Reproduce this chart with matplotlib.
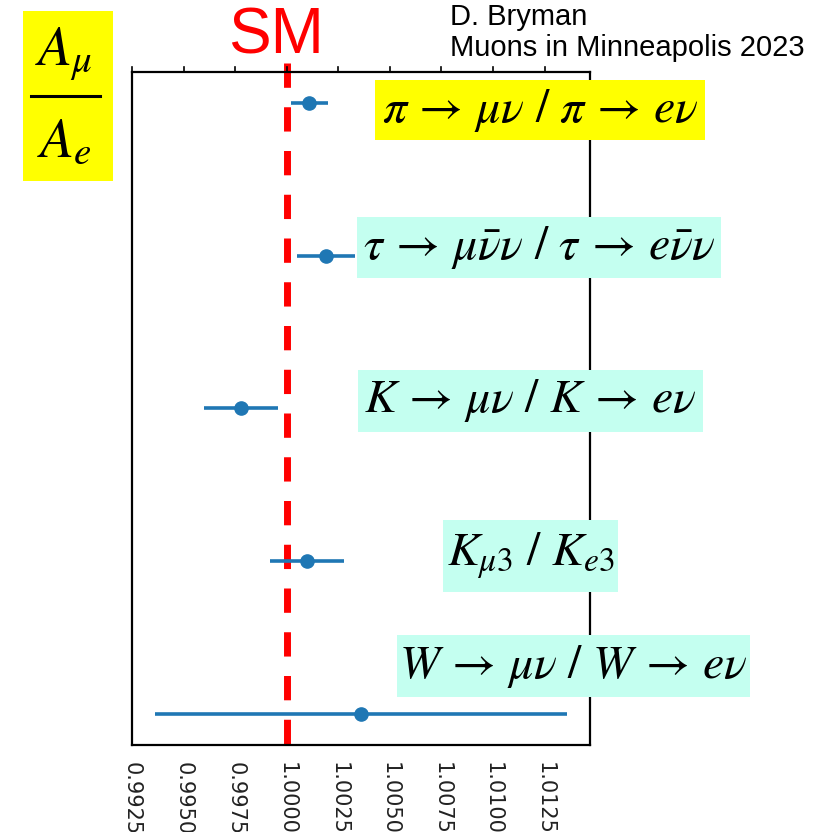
import numpy as np
import matplotlib
matplotlib.use('Agg')
import matplotlib.pyplot as plt
from matplotlib.patches import Rectangle

plt.rcParams['mathtext.fontset'] = 'stix'

# lepton universality ratios A_mu / A_e, top to bottom
channels = [r'$\pi \,\rightarrow\, \mu\nu\ /\ \pi \,\rightarrow\, e\nu$',
            r'$\tau \,\rightarrow\, \mu\bar{\nu}\nu\ /\ \tau \,\rightarrow\, e\bar{\nu}\nu$',
            r'$K \,\rightarrow\, \mu\nu\ /\ K \,\rightarrow\, e\nu$',
            r'$K_{\mu 3}\ /\ K_{e3}$',
            r'$W \,\rightarrow\, \mu\nu\ /\ W \,\rightarrow\, e\nu$']
ratio = [1.0011, 1.0019, 0.9978, 1.0010, 1.0036]
ratio_err = [0.0009, 0.0014, 0.0018, 0.0018, 0.0100]
xticks = [0.9925, 0.9950, 0.9975, 1.0000, 1.0025, 1.0050, 1.0075, 1.0100, 1.0125]

# label boxes in pixels: (x0, y0_top, x1, y1_bottom), colour
box_px = [(375, 80, 705, 140), (357, 217, 721, 278), (358, 370, 703, 432),
          (443, 520, 618, 592), (397, 635, 750, 697)]
box_col = ['#ffff00', '#c4fff0', '#c4fff0', '#c4fff0', '#c4fff0']

W, H = 831, 832
fig = plt.figure(figsize=(W / 100, H / 100), dpi=100)
ax = fig.add_axes([132 / W, 1 - 745 / H, (590 - 132) / W, (745 - 72) / H])

ypos = np.arange(len(ratio))
ax.errorbar(ratio, ypos, xerr=ratio_err, fmt='o', color='#1f77b4',
            ms=9.5, elinewidth=2.6, capsize=0, zorder=3)

# Standard Model expectation
ax.plot([1.0, 1.0], [-0.26, 4.2], color='red', lw=5, dashes=(3.5, 2.8),
        clip_on=False, zorder=2)

ax.set_xlim(0.9925, 1.0147)
ax.set_ylim(4.2, -0.2)
ax.set_yticks([])
ax.set_xticks(xticks)
ax.set_xticklabels(['%.4f' % t for t in xticks], rotation=270, fontsize=15,
                   color='#222222')
ax.tick_params(axis='x', bottom=True, top=True, labelbottom=True, labeltop=False,
               direction='out', length=0, pad=12)
for t in xticks:
    ax.plot([t, t], [-0.2, -0.235], color='black', lw=1.2, clip_on=False)
for s in ax.spines.values():
    s.set_linewidth(1.6)

def fx(px):
    return px / W

def fy(py):
    return 1 - py / H

for (x0, y0, x1, y1), c, lab in zip(box_px, box_col, channels):
    fig.patches.append(Rectangle((fx(x0), fy(y1)), fx(x1 - x0), (y1 - y0) / H,
                                 transform=fig.transFigure, facecolor=c,
                                 edgecolor='none', zorder=5))
    fig.text(fx((x0 + x1) / 2), fy((y0 + y1) / 2), lab, fontsize=34.5,
             ha='center', va='center', zorder=6)

# A_mu / A_e label
fig.patches.append(Rectangle((fx(23), fy(181)), fx(90), 170 / H,
                             transform=fig.transFigure, facecolor='#ffff00',
                             edgecolor='none', zorder=5))
fig.text(fx(64), fy(54), r'$A_{\mu}$', fontsize=40, ha='center', va='center', zorder=6)
fig.text(fx(64), fy(142), r'$A_{e}$', fontsize=40, ha='center', va='center', zorder=6)
fig.add_artist(plt.Line2D([fx(31), fx(100)], [fy(96), fy(96)], color='black',
                          lw=2.2, transform=fig.transFigure, zorder=6))

fig.text(fx(276), fy(36), 'SM', color='red', fontsize=46, family='Liberation Sans',
         ha='center', va='center')
fig.text(fx(450), fy(3), 'D. Bryman\nMuons in Minneapolis 2023', fontsize=21,
         family='Liberation Sans', ha='left', va='top', linespacing=1.15)

fig.savefig('out.png', dpi=100)
